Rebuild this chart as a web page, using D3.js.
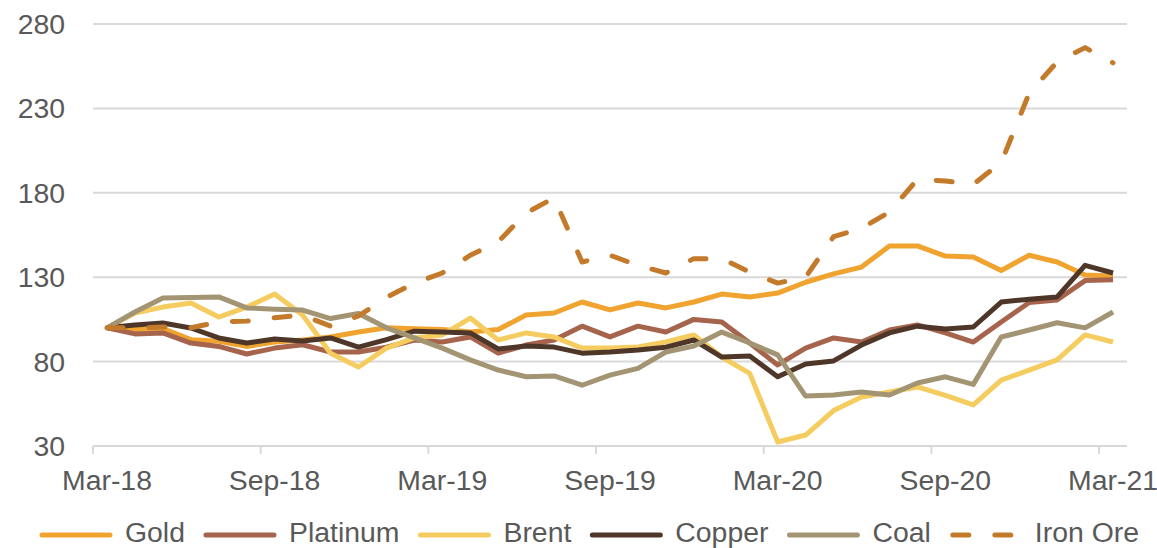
<!DOCTYPE html>
<html>
<head>
<meta charset="utf-8">
<script src="https://cdn.jsdelivr.net/npm/d3@7"></script>
<style>
  body { margin: 0; background: #fff; }
  svg { display: block; font-family: 'Liberation Sans', Arial, sans-serif; }
</style>
</head>
<body>
<svg id="chart" width="1157" height="548"></svg>
<script>
const months = [
  'Mar-18', 'Apr-18', 'May-18', 'Jun-18', 'Jul-18', 'Aug-18', 'Sep-18', 'Oct-18', 'Nov-18', 'Dec-18',
  'Jan-19', 'Feb-19', 'Mar-19', 'Apr-19', 'May-19', 'Jun-19', 'Jul-19', 'Aug-19', 'Sep-19', 'Oct-19',
  'Nov-19', 'Dec-19', 'Jan-20', 'Feb-20', 'Mar-20', 'Apr-20', 'May-20', 'Jun-20', 'Jul-20', 'Aug-20',
  'Sep-20', 'Oct-20', 'Nov-20', 'Dec-20', 'Jan-21', 'Feb-21', 'Mar-21'
]
const yTicks = [30, 80, 130, 180, 230, 280]

const gold = [100, 99, 99.5, 93, 92, 89, 91.6, 92.8, 94.6, 97.5, 100, 99.5, 99, 97.5, 99, 107.6, 108.8, 115.3, 110.6, 114.7,
  111.8, 115.3, 120, 118.3, 120.6, 127, 132, 136, 148.5, 148.5, 142.5, 142, 134, 143, 139, 131.3, 130.7]
const platinum = [100, 96.4, 97, 91, 89, 84.5, 88, 90, 85.7, 85.7, 88.5, 92.8, 91.6, 94.6, 85, 89.8, 92.8, 101, 94.6, 101,
  97.5, 105, 103.5, 91, 78, 88, 94, 91.6, 98.7, 101.7, 97, 91.6, 103.5, 115, 116.5, 128, 128.5]
const brent = [100, 108.8, 112.3, 114.7, 106.4, 112.3, 120, 107.6, 85, 76.8, 88, 94, 95.8, 105.8, 92.8, 97, 94.6, 88, 88, 88.6,
  91.6, 95.8, 82.7, 73, 32.4, 36.5, 51, 59, 62, 65, 60, 54.3, 69, 75, 81, 95.8, 91.6]
const copper = [100, 101.7, 102.9, 99.9, 94, 91, 93.4, 92.2, 94, 88.6, 93, 98, 97.5, 97, 87.5, 89.2, 88.6, 85, 85.7, 86.9,
  88.5, 92.8, 82.7, 83.3, 71, 78.6, 80.4, 89.8, 97, 101, 99.3, 100.5, 115.3, 117, 118.3, 137, 132.5]
const coal = [100, 109.4, 117.7, 118, 118.3, 111.8, 111, 110.5, 105.5, 108.5, 100, 94, 88, 81, 75, 71, 71.5, 66, 72, 76,
  85.7, 89.2, 97.5, 91, 84, 59.6, 60.2, 62, 60.2, 67.3, 71, 66.5, 94.6, 98.7, 103, 100, 109.4]
const ironOre = [100, 100, 100.5, 100, 103.5, 104, 106, 107.5, 101, 107, 118, 126.5, 132.5, 143, 151, 168, 177, 139, 143, 137,
  132.5, 141, 141, 133, 126.5, 130, 154, 159, 168.6, 188, 187, 185, 198, 239, 257.5, 266, 257]

const seriesNames = ['Gold', 'Platinum', 'Brent', 'Copper', 'Coal', 'Iron Ore']
const seriesValues = [gold, platinum, brent, copper, coal, ironOre]
const seriesColors = ['#F0A32F', '#A6644D', '#F5CC5F', '#4E3729', '#A39573', '#C47A2B']

const series = seriesNames.map((name, i) => ({
  name,
  color: seriesColors[i],
  dashed: name === 'Iron Ore',
  values: seriesValues[i]
}))

const svg = d3.select('#chart')
const plotLeft = 93
const plotRight = 1127
const plotTop = 24
const plotBottom = 446
const textColor = '#595959'
const fontSize = 28.4

const x = d3.scalePoint().domain(months).range([plotLeft, plotRight]).padding(0.5)
const y = d3.scaleLinear().domain([30, 280]).range([plotBottom, plotTop])
const step = x.step()

// gridlines
svg.append('g')
  .selectAll('line')
  .data(yTicks.slice(1))
  .join('line')
  .attr('x1', plotLeft)
  .attr('x2', plotRight)
  .attr('y1', d => y(d))
  .attr('y2', d => y(d))
  .attr('stroke', '#D9D9D9')
  .attr('stroke-width', 2)

// y labels
svg.append('g')
  .attr('font-size', fontSize)
  .attr('fill', textColor)
  .attr('text-anchor', 'end')
  .selectAll('text')
  .data(yTicks)
  .join('text')
  .attr('x', 65)
  .attr('y', d => y(d))
  .attr('dy', '0.35em')
  .text(d => d)

// x axis line + ticks between categories
const xAxis = svg.append('g')
xAxis.append('line')
  .attr('x1', plotLeft)
  .attr('x2', plotRight)
  .attr('y1', plotBottom)
  .attr('y2', plotBottom)
  .attr('stroke', '#D9D9D9')
  .attr('stroke-width', 2)

const labelMonths = months.filter((m, i) => i % 6 === 0)
xAxis.selectAll('.tick')
  .data(labelMonths)
  .join('line')
  .attr('class', 'tick')
  .attr('x1', d => x(d) - step / 2)
  .attr('x2', d => x(d) - step / 2)
  .attr('y1', plotBottom)
  .attr('y2', plotBottom + 8)
  .attr('stroke', '#D9D9D9')
  .attr('stroke-width', 2)

xAxis.selectAll('text')
  .data(labelMonths)
  .join('text')
  .attr('x', d => x(d))
  .attr('y', 490)
  .attr('text-anchor', 'middle')
  .attr('font-size', fontSize)
  .attr('fill', textColor)
  .text(d => d)

// lines
const line = d3.line()
  .x((d, i) => x(months[i]))
  .y(d => y(d))

svg.append('g')
  .attr('fill', 'none')
  .selectAll('path')
  .data(series)
  .join('path')
  .attr('d', d => line(d.values))
  .attr('stroke', d => d.color)
  .attr('stroke-width', 5)
  .attr('stroke-linejoin', 'round')
  .attr('stroke-linecap', d => d.dashed ? 'round' : 'butt')
  .attr('stroke-dasharray', d => d.dashed ? '16,26' : null)

// legend
const legend = svg.append('g')
let lx = 40
series.forEach(s => {
  const item = legend.append('g')
  item.append('line')
    .attr('x1', s.dashed ? lx + 3 : lx + 2)
    .attr('x2', lx + 70)
    .attr('y1', 535)
    .attr('y2', 535)
    .attr('stroke', s.color)
    .attr('stroke-width', 5)
    .attr('stroke-linecap', 'round')
    .attr('stroke-dasharray', s.dashed ? '16,26' : null)
  const t = item.append('text')
    .attr('x', lx + 85)
    .attr('y', 542)
    .attr('font-size', fontSize)
    .attr('fill', textColor)
    .text(s.name)
  lx += 85 + t.node().getComputedTextLength() + 19
})
</script>
</body>
</html>
